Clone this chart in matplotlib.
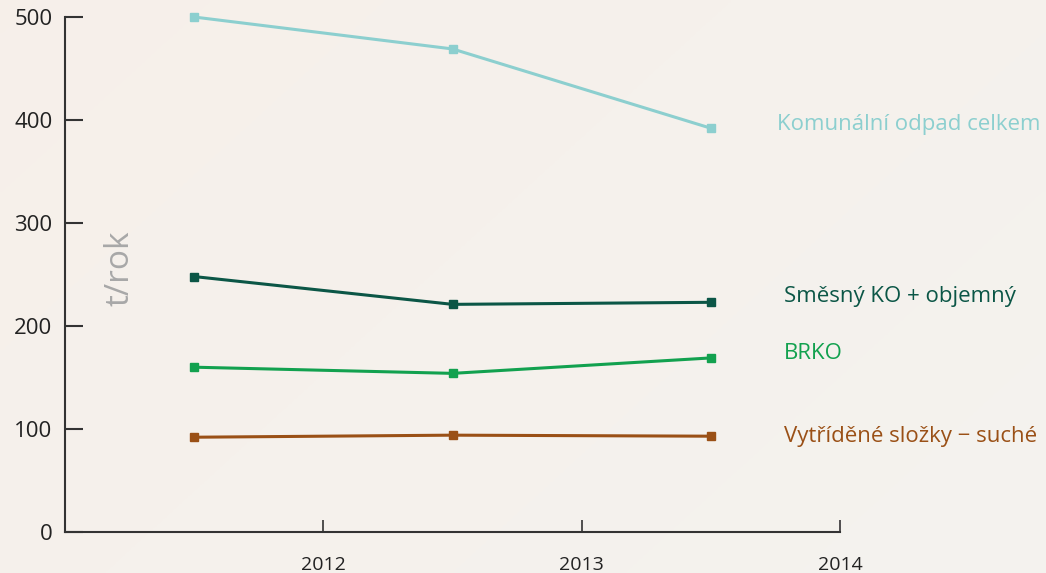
import matplotlib.pyplot as plt
import numpy as np

# data (t/rok)
years = ['2012', '2013', '2014']
komunalni = [500, 469, 392]
smesny = [248, 221, 223]
brko = [160, 154, 169]
vytridene = [92, 94, 93]

series = [
    ('Komunální odpad celkem', komunalni, '#8ccfcf', 66, 4),
    ('Směsný KO + objemný', smesny, '#0b5646', 73, 6),
    ('BRKO', brko, '#12a14f', 73, 4),
    ('Vytříděné složky − suché', vytridene, '#9a5016', 73, 0),
]

plt.rcParams['font.family'] = ['Open Sans', 'DejaVu Sans']

fig = plt.figure(figsize=(10.46, 5.73), dpi=100)

# faint warm gradient in the background
bg = fig.add_axes([0, 0, 1, 1], zorder=-10)
gx, gy = np.meshgrid(np.linspace(0, 1, 200), np.linspace(0, 1, 200))
g = np.clip(0.5 + 0.5 * (gx - 0.4) - 0.3 * (gy - 0.5), 0, 1)
c1 = np.array([247, 239, 233]) / 255
c2 = np.array([244, 243, 239]) / 255
img = c1[None, None, :] * (1 - g[..., None]) + c2[None, None, :] * g[..., None]
bg.imshow(img, aspect='auto', extent=[0, 1, 0, 1], origin='lower')
bg.axis('off')

ax = fig.add_axes([0.0621, 0.0716, 0.7411, 0.8987])
ax.patch.set_alpha(0)

x = np.arange(len(years)) + 0.5
for name, vals, col, dx, dy in series:
    ax.plot(x, vals, color=col, lw=2.2, marker='s', ms=5.5, solid_joinstyle='round', clip_on=False)
    ax.annotate(name, xy=(x[-1], vals[-1]), xytext=(dx, dy), textcoords='offset pixels',
                ha='left', va='center', color=col, fontsize=16, annotation_clip=False)

ax.set_xlim(0, 3)
ax.set_ylim(0, 500)
ax.set_xticks([1, 2, 3])
ax.set_xticklabels(years)
ax.set_yticks([0, 100, 200, 300, 400, 500])

for s in ['top', 'right']:
    ax.spines[s].set_visible(False)
for s in ['left', 'bottom']:
    ax.spines[s].set_color('#333333')
    ax.spines[s].set_linewidth(1.5)

ax.tick_params(axis='y', direction='in', length=13, width=1.5, color='#333333',
               labelsize=16, labelcolor='#222222', pad=9)
ax.tick_params(axis='x', direction='in', length=9, width=1.2, color='#333333',
               labelsize=14, labelcolor='#222222', pad=17)

ax.text(0.071, 0.513, 't/rok', transform=ax.transAxes, rotation=90, ha='center', va='center',
        fontsize=24, color='#a8a8a8')

fig.savefig('out.png', dpi=100)
